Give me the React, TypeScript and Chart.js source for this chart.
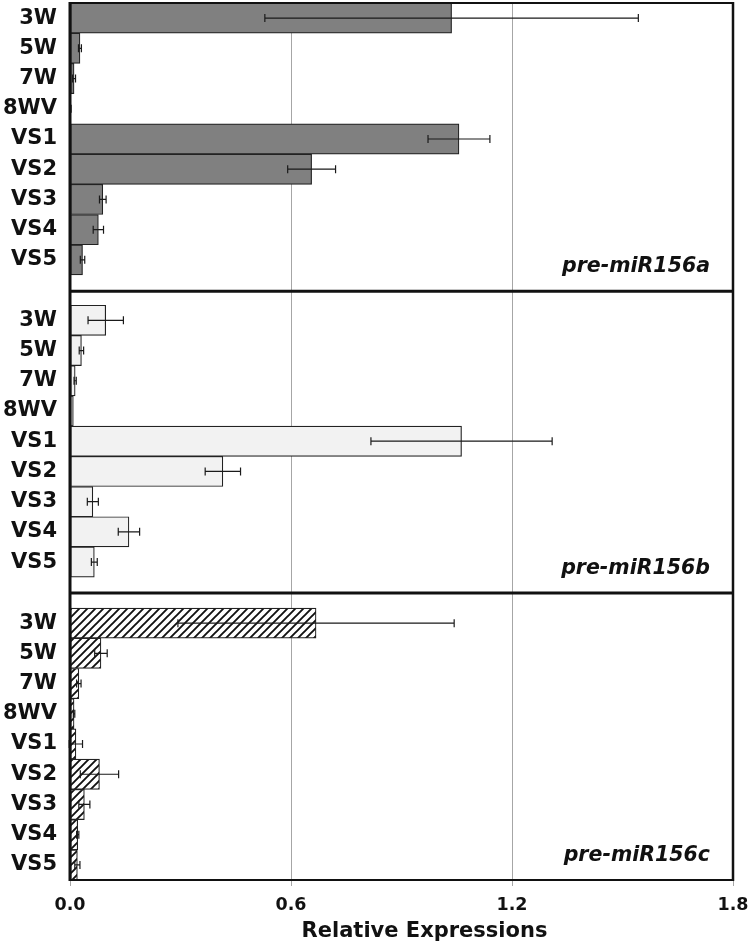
import React, { useEffect, useRef } from 'react';
import { Chart, registerables } from 'chart.js';

Chart.register(...registerables);

const CATEGORIES = ['3W', '5W', '7W', '8WV', 'VS1', 'VS2', 'VS3', 'VS4', 'VS5'];

const A_VALUES = [1.036, 0.027, 0.011, 0.002, 1.056, 0.656, 0.089, 0.077, 0.034];
const A_ERRORS = [0.507, 0.004, 0.004, 0.001, 0.084, 0.065, 0.009, 0.014, 0.006];

const B_VALUES = [0.097, 0.031, 0.014, 0.009, 1.063, 0.415, 0.062, 0.160, 0.066];
const B_ERRORS = [0.048, 0.006, 0.003, 0.0, 0.246, 0.048, 0.015, 0.029, 0.008];

const C_VALUES = [0.668, 0.084, 0.024, 0.011, 0.016, 0.080, 0.039, 0.021, 0.020];
const C_ERRORS = [0.375, 0.017, 0.006, 0.002, 0.018, 0.052, 0.015, 0.003, 0.007];

const PANEL_LABELS = ['pre-miR156a', 'pre-miR156b', 'pre-miR156c'];
const X_TICKS = [0, 0.6, 1.2, 1.8];
const X_TITLE = 'Relative Expressions';

const PANELS = [
  { id: 'y1', values: A_VALUES, errors: A_ERRORS, label: PANEL_LABELS[0] },
  { id: 'y2', values: B_VALUES, errors: B_ERRORS, label: PANEL_LABELS[1] },
  { id: 'y3', values: C_VALUES, errors: C_ERRORS, label: PANEL_LABELS[2] },
];

const FONT = '"DejaVu Sans", "Liberation Sans", Arial, sans-serif';

function makeHatch(ctx: CanvasRenderingContext2D) {
  const c = document.createElement('canvas');
  c.width = 8;
  c.height = 8;
  const g = c.getContext('2d')!;
  g.fillStyle = '#ffffff';
  g.fillRect(0, 0, 8, 8);
  g.strokeStyle = '#111111';
  g.lineWidth = 1.9;
  g.beginPath();
  g.moveTo(-2, 10);
  g.lineTo(10, -2);
  g.moveTo(-2, 2);
  g.lineTo(2, -2);
  g.moveTo(6, 10);
  g.lineTo(10, 6);
  g.stroke();
  return ctx.createPattern(c, 'repeat');
}

const decorPlugin = {
  id: 'panelDecor',
  afterDatasetsDraw(chart: any) {
    const ctx = chart.ctx as CanvasRenderingContext2D;
    const xs = chart.scales.x;
    ctx.save();
    ctx.strokeStyle = '#1a1a1a';
    ctx.lineWidth = 1.2;
    PANELS.forEach((p, d) => {
      const meta = chart.getDatasetMeta(d);
      meta.data.forEach((bar: any, i: number) => {
        const v = p.values[i];
        const e = p.errors[i];
        if (!(e > 0)) return;
        const x1 = xs.getPixelForValue(v - e);
        const x2 = xs.getPixelForValue(v + e);
        const y = bar.y;
        ctx.beginPath();
        ctx.moveTo(x1, y);
        ctx.lineTo(x2, y);
        ctx.moveTo(x1, y - 4);
        ctx.lineTo(x1, y + 4);
        ctx.moveTo(x2, y - 4);
        ctx.lineTo(x2, y + 4);
        ctx.stroke();
      });
    });
    ctx.restore();
  },
  afterDraw(chart: any) {
    const ctx = chart.ctx as CanvasRenderingContext2D;
    const { left, right, top, bottom } = chart.chartArea;
    const ys = PANELS.map((p) => chart.scales[p.id]);
    ctx.save();
    ctx.strokeStyle = '#111111';
    const line = (x1: number, y1: number, x2: number, y2: number, w: number) => {
      ctx.lineWidth = w;
      ctx.beginPath();
      ctx.moveTo(x1, y1);
      ctx.lineTo(x2, y2);
      ctx.stroke();
    };
    line(left, top, right, top, 2);
    line(left, ys[0].bottom, right, ys[0].bottom, 3);
    line(left, ys[1].bottom, right, ys[1].bottom, 3);
    line(left, bottom, right, bottom, 2);
    line(left, top - 1, left, bottom + 1, 3);
    line(right, top - 1, right, bottom + 1, 2.5);

    ctx.fillStyle = '#111111';
    ctx.font = 'italic bold 20.5px ' + FONT;
    ctx.textAlign = 'right';
    ctx.textBaseline = 'alphabetic';
    PANELS.forEach((p, i) => {
      ctx.fillText(p.label, right - 23, ys[i].bottom - 19);
    });

    ctx.font = 'bold 21px ' + FONT;
    ctx.textAlign = 'center';
    ctx.fillText(X_TITLE, (left + right) / 2 + 23, 937);
    ctx.restore();
  },
};

const RANGES: [number, number][] = [
  [-0.5, 9.04],
  [-0.96, 9.02],
  [-1.0, 8.5],
];

export default function App() {
  const ref = useRef<HTMLCanvasElement>(null);

  useEffect(() => {
    const canvas = ref.current;
    if (!canvas) return;
    const ctx = canvas.getContext('2d')!;
    const hatch = makeHatch(ctx);
    const fills: any[] = ['#808080', '#f2f2f2', hatch];

    const scales: any = {
      x: {
        type: 'linear',
        position: 'bottom',
        min: 0,
        max: 1.8,
        offset: false,
        grid: { color: '#a6a6a6', lineWidth: 1, tickLength: 6, tickColor: '#a6a6a6', drawOnChartArea: true, offset: false },
        border: { display: false },
        ticks: {
          padding: 9,
          color: '#111111',
          font: { family: FONT, size: 17.5, weight: 'bold' },
          maxRotation: 0,
          autoSkip: false,
          callback: (v: any) => Number(v).toFixed(1),
        },
        afterBuildTicks: (s: any) => {
          s.ticks = X_TICKS.map((v) => ({ value: v }));
        },
        afterFit: (s: any) => {
          s.height = 65;
          s.paddingLeft = 0;
          s.paddingRight = 0;
        },
      },
    };

    PANELS.forEach((p, i) => {
      const r = RANGES[i];
      scales[p.id] = {
        type: 'linear',
        position: 'left',
        stack: 'panels',
        stackWeight: r[1] - r[0],
        weight: 3 - i,
        reverse: true,
        offset: false,
        bounds: 'data',
        min: r[0],
        max: r[1],
        grid: { display: false, drawTicks: false, offset: false },
        border: { display: false },
        ticks: {
          padding: 13,
          color: '#111111',
          autoSkip: false,
          font: { family: FONT, size: 21, weight: 'bold' },
          callback: (v: any) => CATEGORIES[v] ?? '',
        },
        afterBuildTicks: (s: any) => {
          s.ticks = CATEGORIES.map((_, k) => ({ value: k }));
        },
        afterFit: (s: any) => {
          s.width = 70;
          s.paddingTop = 0;
          s.paddingBottom = 0;
        },
      };
    });

    const chart = new Chart(canvas, {
      type: 'bar',
      data: {
        datasets: PANELS.map((p, i) => ({
          label: p.label,
          data: p.values.map((v, k) => ({ x: v, y: k })),
          xAxisID: 'x',
          yAxisID: p.id,
          backgroundColor: fills[i],
          borderColor: '#222222',
          borderWidth: 1.2,
          borderSkipped: false,
          grouped: false,
          barPercentage: 1,
          categoryPercentage: 1,
        })),
      } as any,
      options: {
        indexAxis: 'y',
        responsive: false,
        maintainAspectRatio: false,
        animation: false,
        events: [],
        layout: { padding: { top: 3, right: 17, bottom: 0, left: 0 } },
        plugins: {
          legend: { display: false },
          tooltip: { enabled: false },
          title: { display: false },
        },
        scales,
      } as any,
      plugins: [decorPlugin],
    });

    return () => chart.destroy();
  }, []);

  return (
    <div style={{ position: 'absolute', left: 0, top: 0, width: 750, height: 945, background: '#ffffff' }}>
      <canvas ref={ref} width={750} height={945} style={{ display: 'block' }} />
    </div>
  );
}
